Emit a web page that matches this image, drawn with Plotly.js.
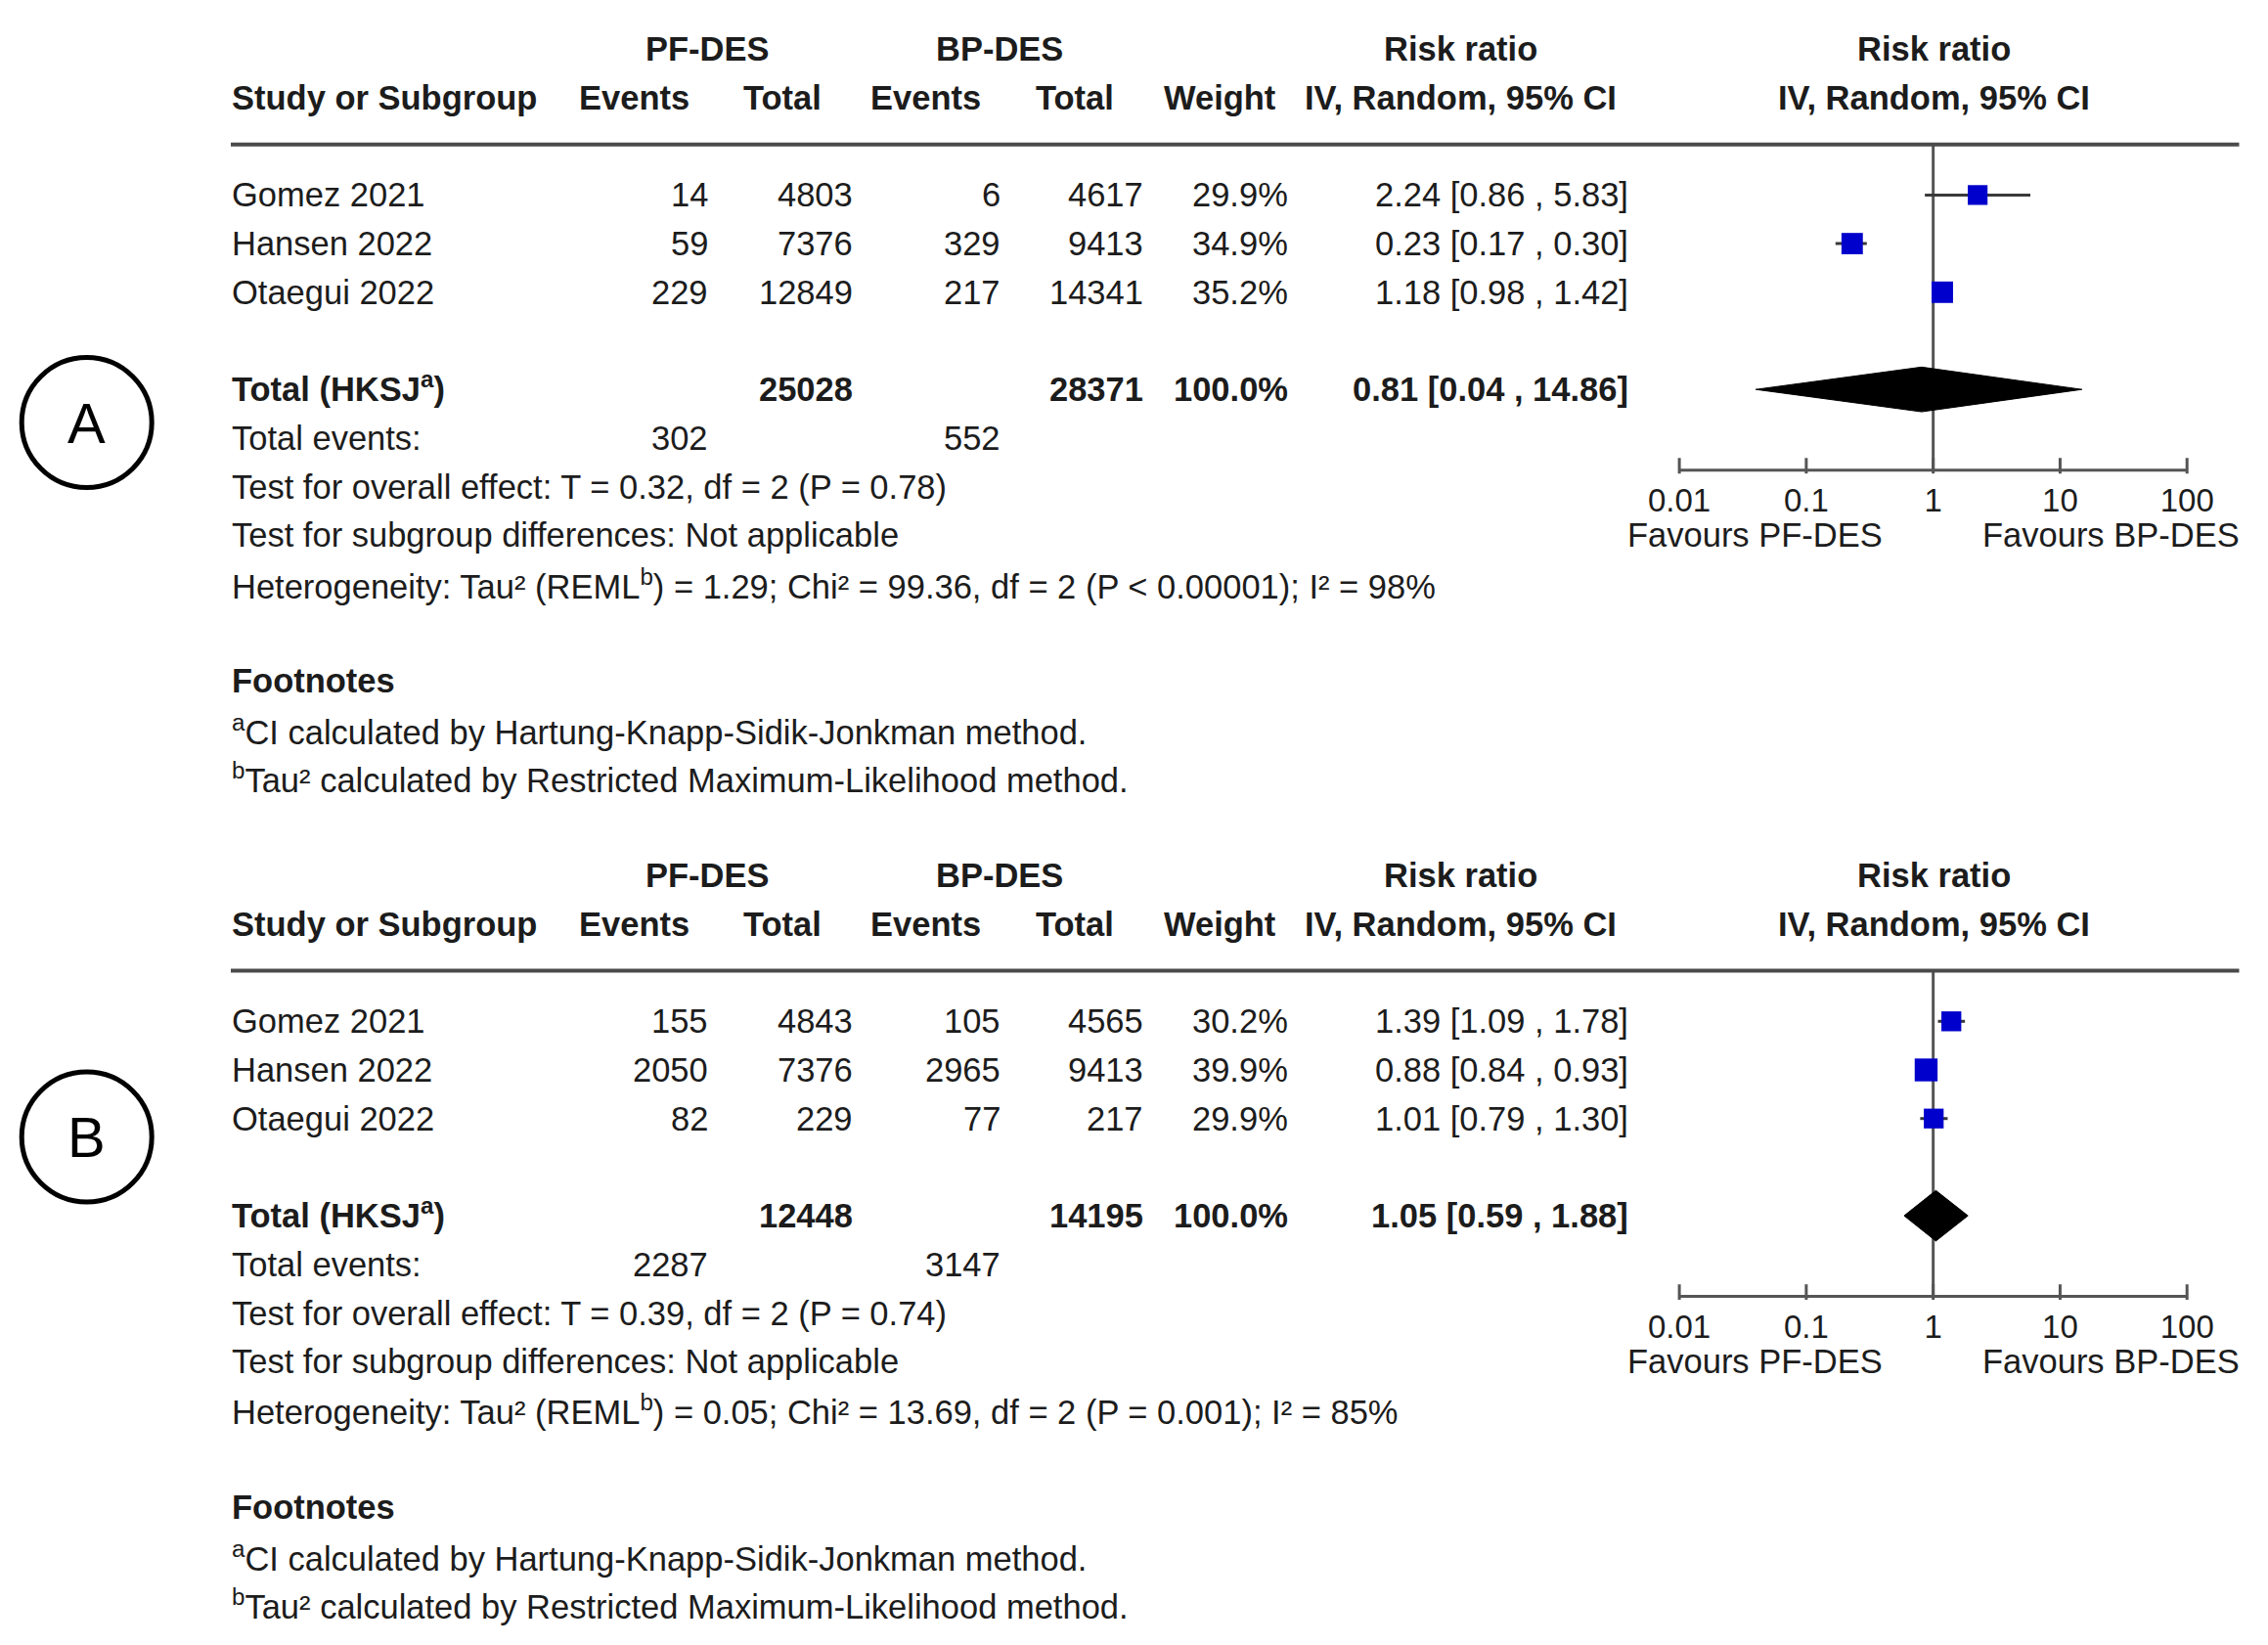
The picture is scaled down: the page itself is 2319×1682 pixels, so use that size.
<!DOCTYPE html>
<html>
<head>
<meta charset="utf-8">
<script src="https://cdn.plot.ly/plotly-3.0.1.min.js"></script>
<style>html,body{margin:0;padding:0;background:#fff;}</style>
</head>
<body>
<div id="chart" style="width:2319px;height:1682px;"></div>
<script>
// ---------------- DATA ----------------
const studies = ['Gomez 2021', 'Hansen 2022', 'Otaegui 2022'];

// Panel A
const pfEventsA = [14, 59, 229];
const pfTotalA = [4803, 7376, 12849];
const bpEventsA = [6, 329, 217];
const bpTotalA = [4617, 9413, 14341];
const weightA = [29.9, 34.9, 35.2];
const rrA = [2.24, 0.23, 1.18];
const loA = [0.86, 0.17, 0.98];
const hiA = [5.83, 0.30, 1.42];
const pooledA = [0.81, 0.04, 14.86];
const totalsA = [25028, 28371];
const totalEventsA = [302, 552];
const statsA = [
  'Test for overall effect: T = 0.32, df = 2 (P = 0.78)',
  'Test for subgroup differences: Not applicable',
  'Heterogeneity: Tau² (REML<sup>b</sup>) = 1.29; Chi² = 99.36, df = 2 (P &lt; 0.00001); I² = 98%'
];

// Panel B
const pfEventsB = [155, 2050, 82];
const pfTotalB = [4843, 7376, 229];
const bpEventsB = [105, 2965, 77];
const bpTotalB = [4565, 9413, 217];
const weightB = [30.2, 39.9, 29.9];
const rrB = [1.39, 0.88, 1.01];
const loB = [1.09, 0.84, 0.79];
const hiB = [1.78, 0.93, 1.30];
const pooledB = [1.05, 0.59, 1.88];
const totalsB = [12448, 14195];
const totalEventsB = [2287, 3147];
const statsB = [
  'Test for overall effect: T = 0.39, df = 2 (P = 0.74)',
  'Test for subgroup differences: Not applicable',
  'Heterogeneity: Tau² (REML<sup>b</sup>) = 0.05; Chi² = 13.69, df = 2 (P = 0.001); I² = 85%'
];

const tickVals = [0.01, 0.1, 1, 10, 100];
const tickText = ['0.01', '0.1', '1', '10', '100'];
const groupLabels = ['PF-DES', 'BP-DES'];
const colHeaders = ['Study or Subgroup', 'Events', 'Total', 'Events', 'Total', 'Weight', 'IV, Random, 95% CI'];
const favours = ['Favours PF-DES', 'Favours BP-DES'];
const footnotes = ['<sup>a</sup>CI calculated by Hartung-Knapp-Sidik-Jonkman method.',
                   '<sup>b</sup>Tau² calculated by Restricted Maximum-Likelihood method.'];
const panelLetters = ['A', 'B'];

// ---------------- LAYOUT HELPERS ----------------
const W = 2319, H = 1682;
const px = v => v / W;
const ROW = 49.7;                 // pixel height of one table row
const yTop = 1 - 50.3 / ROW;      // row value at the top edge
const yBot = yTop + H / ROW;      // row value at the bottom edge
const rowToPaper = r => (yBot - r) / (yBot - yTop);

const FONT = 'Liberation Sans, Arial, Helvetica, sans-serif';
const TXT = '#1c1c1c';
const FS = 34.5;

const col = {
  name: px(236), pfEv: px(725), pfTot: px(872.6), bpEv: px(1023.5), bpTot: px(1170),
  w: px(1318), rr: px(1666),
  hEv1: px(649), hTot1: px(800), hEv2: px(946.6), hTot2: px(1099), hW: px(1247),
  hRR: px(1493), hPlot: px(1977), hPF: px(723), hBP: px(1022),
  favPF: px(1794), favBP: px(2158)
};

const annotations = [];
const shapes = [];
function txt(x, r, text, anchor, bold, size) {
  annotations.push({
    xref: 'paper', yref: 'y', x: x, y: r, text: bold ? '<b>' + text + '</b>' : text,
    showarrow: false, xanchor: anchor, yanchor: 'middle',
    font: {family: FONT, size: size || FS, color: TXT}, borderpad: 0
  });
}

const lineTraces = [];
const markTraces = [];

function panel(off, xa, d) {
  // headers
  txt(col.hPF, off + 1, groupLabels[0], 'center', true);
  txt(col.hBP, off + 1, groupLabels[1], 'center', true);
  txt(col.hRR, off + 1, 'Risk ratio', 'center', true);
  txt(col.hPlot, off + 1, 'Risk ratio', 'center', true);
  txt(col.name, off + 2, colHeaders[0], 'left', true);
  txt(col.hEv1, off + 2, colHeaders[1], 'center', true);
  txt(col.hTot1, off + 2, colHeaders[2], 'center', true);
  txt(col.hEv2, off + 2, colHeaders[3], 'center', true);
  txt(col.hTot2, off + 2, colHeaders[4], 'center', true);
  txt(col.hW, off + 2, colHeaders[5], 'center', true);
  txt(col.hRR, off + 2, colHeaders[6], 'center', true);
  txt(col.hPlot, off + 2, colHeaders[6], 'center', true);

  shapes.push({type: 'line', xref: 'paper', yref: 'y', x0: px(236), x1: px(2289.5),
    y0: off + 2.96, y1: off + 2.96, line: {color: '#4a4a4a', width: 4}});

  const rows = studies.map((s, i) => off + 4 + i);
  studies.forEach((s, i) => {
    const r = rows[i];
    txt(col.name, r, s, 'left');
    txt(col.pfEv, r, String(d.pfEv[i]), 'right');
    txt(col.pfTot, r, String(d.pfTot[i]), 'right');
    txt(col.bpEv, r, String(d.bpEv[i]), 'right');
    txt(col.bpTot, r, String(d.bpTot[i]), 'right');
    txt(col.w, r, d.w[i].toFixed(1) + '%', 'right');
    txt(col.rr, r, d.rr[i].toFixed(2) + ' [' + d.lo[i].toFixed(2) + ' , ' + d.hi[i].toFixed(2) + ']', 'right');
  });

  const tr = off + 8;
  txt(col.name, tr - 0.05, 'Total (HKSJ<sup>a</sup>)', 'left', true);
  txt(col.pfTot, tr, String(d.totals[0]), 'right', true);
  txt(col.bpTot, tr, String(d.totals[1]), 'right', true);
  txt(col.w, tr, '100.0%', 'right', true);
  txt(col.rr, tr, d.pooled[0].toFixed(2) + ' [' + d.pooled[1].toFixed(2) + ' , ' + d.pooled[2].toFixed(2) + ']', 'right', true);

  txt(col.name, off + 9, 'Total events:', 'left');
  txt(col.pfEv, off + 9, String(d.totEv[0]), 'right');
  txt(col.bpEv, off + 9, String(d.totEv[1]), 'right');
  d.stats.forEach((s, i) => txt(col.name, off + 10 + i, s, 'left'));
  txt(col.name, off + 14, 'Footnotes', 'left', true);
  footnotes.forEach((f, i) => txt(col.name, off + 15 + i, f, 'left'));

  txt(col.favPF, off + 11, favours[0], 'center');
  txt(col.favBP, off + 11, favours[1], 'center');

  const axisRow = off + 9.66;
  // line of no effect
  lineTraces.push({type: 'scatter', mode: 'lines', xaxis: xa, yaxis: 'y',
    x: [1, 1], y: [off + 2.96, axisRow], line: {color: '#555', width: 3}, hoverinfo: 'skip', cliponaxis: false});
  // axis line and crossing ticks
  const ax = [tickVals[0], tickVals[tickVals.length - 1], null], ay = [axisRow, axisRow, null];
  tickVals.forEach(t => { ax.push(t, t, null); ay.push(axisRow - 0.25, axisRow + 0.07, null); });
  lineTraces.push({type: 'scatter', mode: 'lines', xaxis: xa, yaxis: 'y', x: ax, y: ay,
    line: {color: '#555', width: 3}, hoverinfo: 'skip', cliponaxis: false});
  // CI lines
  const cx = [], cy = [];
  studies.forEach((s, i) => { cx.push(d.lo[i], d.hi[i], null); cy.push(rows[i], rows[i], null); });
  lineTraces.push({type: 'scatter', mode: 'lines', xaxis: xa, yaxis: 'y', x: cx, y: cy,
    line: {color: '#3a3a3a', width: 3}, hoverinfo: 'skip', cliponaxis: false});
  // diamond
  const h = d.dh;
  lineTraces.push({type: 'scatter', mode: 'lines', xaxis: xa, yaxis: 'y', fill: 'toself',
    x: [d.pooled[1], d.pooled[0], d.pooled[2], d.pooled[0], d.pooled[1]],
    y: [tr, tr - h, tr, tr + h, tr], fillcolor: '#000', line: {color: '#000', width: 1},
    hoverinfo: 'skip', cliponaxis: false});
  // squares (on top)
  markTraces.push({type: 'scatter', mode: 'markers', xaxis: xa, yaxis: 'y', x: d.rr, y: rows,
    opacity: 1,
    marker: {symbol: 'square', color: '#0000CC', opacity: 1,
             size: d.w.map(w => 3.7 * Math.sqrt(w)), line: {width: 0}},
    cliponaxis: false});
  return axisRow;
}

const axA = panel(0, 'x', {pfEv: pfEventsA, pfTot: pfTotalA, bpEv: bpEventsA, bpTot: bpTotalA, w: weightA,
  rr: rrA, lo: loA, hi: hiA, pooled: pooledA, totals: totalsA, totEv: totalEventsA, stats: statsA, dh: 0.46});
const axB = panel(17, 'x2', {pfEv: pfEventsB, pfTot: pfTotalB, bpEv: bpEventsB, bpTot: bpTotalB, w: weightB,
  rr: rrB, lo: loB, hi: hiB, pooled: pooledB, totals: totalsB, totEv: totalEventsB, stats: statsB, dh: 0.52});

// panel letters in circles
[[432, panelLetters[0]], [1162.5, panelLetters[1]]].forEach(([cyPix, L]) => {
  const cxPix = 88.7, rad = 66.5;
  shapes.push({type: 'circle', xref: 'paper', yref: 'paper',
    x0: px(cxPix - rad), x1: px(cxPix + rad), y0: 1 - (cyPix + rad) / H, y1: 1 - (cyPix - rad) / H,
    line: {color: '#000', width: 5}});
  annotations.push({xref: 'paper', yref: 'paper', x: px(cxPix), y: 1 - cyPix / H, text: L,
    showarrow: false, xanchor: 'center', yanchor: 'middle',
    font: {family: FONT, size: 58, color: '#000'}});
});

// axis scale: 0.01 -> 1717.1 px, 100 -> 2236.2 px; range padded slightly so edge labels are kept
const PAD = 0.02, perDec = (2236.2 - 1717.1) / 4;
const xDomain = [px(1717.1 - PAD * perDec), px(2236.2 + PAD * perDec)];
function xAxis(pos) {
  return {type: 'log', range: [-2 - PAD, 2 + PAD], domain: xDomain, anchor: 'free', position: pos,
    showline: false, ticks: '', tickvals: tickVals, ticktext: tickText, showgrid: false, zeroline: false,
    ticklabelstandoff: 8,
    tickfont: {family: FONT, size: 33, color: TXT}, fixedrange: true};
}

const layout = {
  width: W, height: H, margin: {l: 0, r: 0, t: 0, b: 0},
  paper_bgcolor: '#fff', plot_bgcolor: 'rgba(0,0,0,0)', showlegend: false,
  xaxis: xAxis(rowToPaper(axA)),
  xaxis2: xAxis(rowToPaper(axB)),
  yaxis: {range: [yBot, yTop], domain: [0, 1], visible: false, fixedrange: true},
  annotations: annotations, shapes: shapes
};

Plotly.newPlot('chart', lineTraces.concat(markTraces), layout, {staticPlot: true, displayModeBar: false});
</script>
</body>
</html>
